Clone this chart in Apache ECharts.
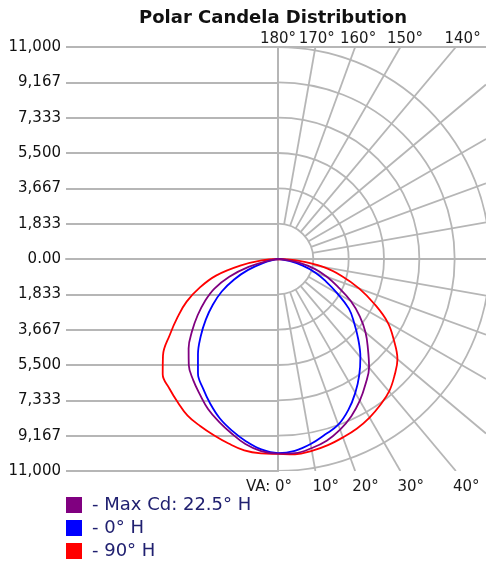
<!DOCTYPE html>
<html>
<head>
<meta charset="utf-8">
<script src="https://cdn.jsdelivr.net/npm/echarts@6/dist/echarts.min.js"></script>
<style>
html, body { margin: 0; padding: 0; background: #fff; }
#chart { width: 486px; height: 564px; }
</style>
</head>
<body>
<div id="chart"></div>
<script>
// vertical angles (deg from nadir) and candela readings, left / right half of each plane
var vaAngles   = [0, 5, 10, 15, 20, 25, 30, 35, 40, 45, 50, 55, 60, 65, 70, 75, 80, 85, 90];
var maxCdLeft  = [10100, 10010, 9750, 9360, 8980, 8590, 8110, 7670, 7200, 6560, 5820, 5090, 4380, 3640, 2690, 1580, 500, 0, 0];
var maxCdRight = [10100, 10110, 9970, 9760, 9420, 9000, 8490, 7920, 7350, 6600, 5930, 5180, 4360, 3440, 2700, 1970, 1100, 300, 0];
var h0Left     = [10070, 9920, 9600, 9220, 8810, 8300, 7770, 7240, 6460, 5670, 4890, 4120, 3370, 2510, 1650, 810, 150, 0, 0];
var h0Right    = [10070, 9990, 9750, 9430, 9150, 8640, 8020, 7350, 6650, 5890, 5160, 4490, 3540, 2740, 2070, 1330, 600, 100, 0];
var h90Left    = [10110, 10120, 10080, 9910, 9730, 9560, 9380, 9070, 8770, 8460, 7790, 6850, 6010, 5230, 4310, 3330, 1990, 850, 0];
var h90Right   = [10110, 10170, 10110, 10000, 9850, 9700, 9500, 9250, 8970, 8550, 8090, 7340, 6570, 5520, 4490, 3440, 2380, 1100, 0];

var seriesNames = ['- Max Cd: 22.5\u00b0 H', '- 0\u00b0 H', '- 90\u00b0 H'];
var seriesColors = ['#800080', '#0000ff', '#ff0000'];

var yTickLabels = ['0.00', '1,833', '3,667', '5,500', '7,333', '9,167', '11,000'];
var ringValues = [1833.33, 3666.67, 5500, 7333.33, 9166.67, 11000];
var spokeAngles = [10, 20, 30, 40, 50, 60, 70, 80, 90, 100, 110, 120, 130, 140, 150, 160, 170];
var topLabels = [180, 170, 160, 150, 140];
var bottomLabels = [0, 10, 20, 30, 40];

var cdMax = 11000;
var xRightMax = 10792;
var gridColor = '#b6b6b6';
var fontName = '"DejaVu Sans"';

function curve(left, right) {
    var pts = [];
    for (var i = vaAngles.length - 1; i >= 0; i--) pts.push([left[i], vaAngles[i]]);
    for (var j = 1; j < vaAngles.length; j++) pts.push([right[j], -vaAngles[j]]);
    return pts;
}

function polarGrid(params, api) {
    var c = api.coord([0, 0]);
    var top = api.coord([0, cdMax]);
    var k = (c[1] - top[1]) / cdMax;
    var xEdge = api.coord([xRightMax, 0])[0] - c[0];
    var yEdge = c[1] - top[1];
    var children = [];
    ringValues.forEach(function (v) {
        children.push({
            type: 'arc',
            shape: { cx: c[0], cy: c[1], r: v * k, startAngle: -Math.PI / 2, endAngle: Math.PI / 2, clockwise: true },
            style: { stroke: gridColor, lineWidth: 1.8, fill: null }
        });
    });
    var r0 = ringValues[0] * k;
    spokeAngles.forEach(function (a) {
        var t = a * Math.PI / 180, s = Math.sin(t), co = Math.cos(t);
        var len = xEdge / s;
        if (Math.abs(co) > 1e-6) len = Math.min(len, yEdge / Math.abs(co));
        children.push({
            type: 'line',
            shape: { x1: c[0] + r0 * s, y1: c[1] + r0 * co, x2: c[0] + len * s, y2: c[1] + len * co },
            style: { stroke: gridColor, lineWidth: 1.8 }
        });
    });
    return { type: 'group', children: children };
}

function angleLabels(params, api) {
    var c = api.coord([0, 0]);
    var top = api.coord([0, cdMax]);
    var bottom = api.coord([0, -cdMax]);
    var children = [];
    var txt = function (s, x, y, align) {
        return {
            type: 'text', x: x, y: y,
            style: { text: s, fill: '#1a1a1a', font: '15px ' + fontName, align: align, textAlign: align, verticalAlign: 'middle', textVerticalAlign: 'middle' }
        };
    };
    var yTop = top[1] - 8;
    topLabels.forEach(function (a) {
        var d = (180 - a) * Math.PI / 180;
        children.push(txt(a + '\u00b0', c[0] + Math.tan(d) * (c[1] - yTop), yTop, 'center'));
    });
    var yBot = bottom[1] + 16;
    bottomLabels.forEach(function (a) {
        var d = a * Math.PI / 180;
        var x = c[0] + Math.tan(d) * (bottom[1] - c[1]) - 3;
        children.push(txt(a + '\u00b0', x, yBot, 'left'));
        if (a === 0) children.push(txt('VA: ', x, yBot, 'right'));
    });
    return { type: 'group', children: children };
}

var myChart = echarts.init(document.getElementById('chart'));

myChart.setOption({
    animation: false,
    title: {
        text: 'Polar Candela Distribution',
        left: 268,
        top: 4,
        textAlign: 'center',
        textStyle: { fontFamily: fontName, fontSize: 18, fontWeight: 'bold', color: '#111' }
    },
    legend: {
        orient: 'vertical',
        left: 66,
        top: 496,
        padding: 0,
        icon: 'rect',
        itemWidth: 16,
        itemHeight: 16,
        itemGap: 5,
        data: seriesNames,
        textStyle: { fontFamily: fontName, fontSize: 18, color: '#202070', padding: [0, 0, 0, 5] }
    },
    grid: [
        { left: 66, width: 212, top: 47, bottom: 93 },
        { left: 278, right: 0, top: 47, bottom: 93 }
    ],
    xAxis: [
        { gridIndex: 0, type: 'value', min: -cdMax, max: 0,
          axisLine: { lineStyle: { color: gridColor, width: 2 } },
          axisTick: { show: false }, axisLabel: { show: false }, splitLine: { show: false } },
        { gridIndex: 1, type: 'value', min: 0, max: xRightMax,
          axisLine: { lineStyle: { color: gridColor, width: 2 } },
          axisTick: { show: false }, axisLabel: { show: false }, splitLine: { show: false } },
        { gridIndex: 1, type: 'value', min: 0, max: xRightMax, position: 'top',
          axisLine: { lineStyle: { color: gridColor, width: 2 } },
          axisTick: { show: false }, axisLabel: { show: false }, splitLine: { show: false } }
    ],
    yAxis: [
        { gridIndex: 0, type: 'value', min: -cdMax, max: cdMax, interval: cdMax / 6,
          axisLine: { show: true, lineStyle: { color: gridColor, width: 2 } },
          axisTick: { show: false },
          axisLabel: {
              margin: 5, color: '#111', fontFamily: fontName, fontSize: 15,
              formatter: function (v) { return yTickLabels[Math.round(Math.abs(v) / (cdMax / 6))]; }
          },
          splitLine: { lineStyle: { color: gridColor, width: 2 } } },
        { gridIndex: 0, type: 'value', min: -cdMax, max: cdMax, position: 'right',
          axisLine: { show: true, lineStyle: { color: gridColor, width: 2 } },
          axisTick: { show: false }, axisLabel: { show: false }, splitLine: { show: false } },
        { gridIndex: 1, type: 'value', min: -cdMax, max: cdMax, show: false }
    ],
    polar: { center: [278, 259], radius: 212 },
    radiusAxis: { min: 0, max: cdMax, show: false },
    angleAxis: { type: 'value', min: -180, max: 180, startAngle: 90, clockwise: true, show: false },
    series: [
        { type: 'custom', name: 'grid', xAxisIndex: 1, yAxisIndex: 2, clip: true, silent: true, z: 1,
          renderItem: polarGrid, data: [[0, 0]] },
        { type: 'custom', name: 'labels', xAxisIndex: 1, yAxisIndex: 2, clip: false, silent: true, z: 1,
          renderItem: angleLabels, data: [[0, 0]] },
        { type: 'line', name: seriesNames[2], coordinateSystem: 'polar', smooth: 0.4, showSymbol: false, z: 3,
          color: seriesColors[2], lineStyle: { width: 1.8 }, data: curve(h90Left, h90Right) },
        { type: 'line', name: seriesNames[1], coordinateSystem: 'polar', smooth: 0.4, showSymbol: false, z: 3,
          color: seriesColors[1], lineStyle: { width: 1.8 }, data: curve(h0Left, h0Right) },
        { type: 'line', name: seriesNames[0], coordinateSystem: 'polar', smooth: 0.4, showSymbol: false, z: 3,
          color: seriesColors[0], lineStyle: { width: 1.8 }, data: curve(maxCdLeft, maxCdRight) }
    ]
});
</script>
</body>
</html>
